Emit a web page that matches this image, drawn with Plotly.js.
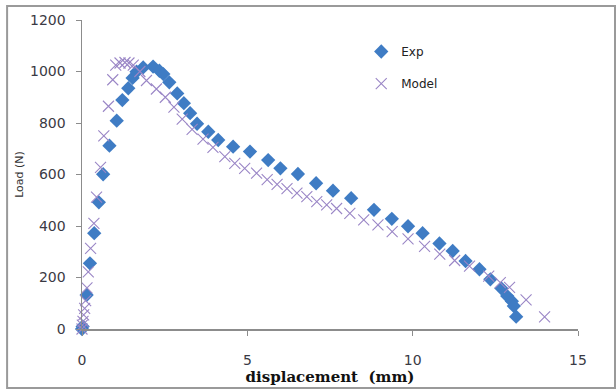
<!DOCTYPE html>
<html>
<head>
<meta charset="utf-8">
<script src="https://cdn.plot.ly/plotly-3.0.1.min.js"></script>
<style>html,body{margin:0;padding:0;background:#fff;}#chart{width:616px;height:389px;}</style>
</head>
<body>
<div id="chart"></div>
<script>
const expX = [0, 0.02, 0.14, 0.24, 0.37, 0.51, 0.64, 0.83, 1.05, 1.22, 1.4, 1.53, 1.65, 1.85, 2.15, 2.34, 2.46, 2.64, 2.88, 3.08, 3.27, 3.48, 3.82, 4.12, 4.57, 5.08, 5.63, 6.0, 6.53, 7.08, 7.59, 8.14, 8.83, 9.37, 9.86, 10.3, 10.81, 11.21, 11.6, 12.02, 12.35, 12.68, 12.86, 13.0, 13.06, 13.13];
const expY = [0, 10, 132, 255, 372, 492, 601, 712, 809, 889, 935, 975, 999, 1016, 1019, 1003, 990, 958, 915, 877, 838, 797, 766, 734, 708, 689, 656, 624, 602, 566, 537, 508, 463, 428, 399, 372, 332, 303, 264, 232, 193, 158, 128, 108, 89, 48];

const modelX = [0, 0.01, 0.03, 0.05, 0.08, 0.11, 0.15, 0.19, 0.26, 0.36, 0.44, 0.56, 0.66, 0.8, 0.93, 1.02, 1.15, 1.3, 1.42, 1.55, 1.75, 1.95, 2.25, 2.52, 2.78, 3.03, 3.33, 3.66, 3.96, 4.32, 4.62, 4.92, 5.28, 5.6, 5.9, 6.2, 6.5, 6.8, 7.1, 7.4, 7.7, 8.1, 8.52, 8.95, 9.38, 9.86, 10.36, 10.82, 11.27, 11.72, 12.3, 12.65, 12.93, 13.43, 13.99];
const modelY = [0, 15, 30, 55, 80, 110, 160, 222, 313, 410, 512, 628, 750, 865, 968, 1025, 1033, 1035, 1033, 1025, 1000, 965, 932, 900, 862, 815, 775, 737, 705, 669, 643, 624, 605, 580, 562, 545, 528, 514, 495, 482, 468, 449, 424, 404, 378, 350, 321, 291, 266, 244, 205, 180, 162, 113, 47];

const yTicks = [0, 200, 400, 600, 800, 1000, 1200];
const xTicks = [0, 5, 10, 15];

const traces = [
  {
    x: expX, y: expY, name: 'Exp', type: 'scatter', mode: 'markers',
    marker: {symbol: 'diamond', size: 11, color: '#3f7cc4'},
    cliponaxis: false, legend: 'legend'
  },
  {
    x: modelX, y: modelY, name: 'Model', type: 'scatter', mode: 'markers',
    marker: {symbol: 'x-thin', size: 11, color: '#9a86c6', line: {width: 1.1, color: '#9a86c6'}},
    cliponaxis: false, legend: 'legend2'
  }
];

const layout = {
  width: 616, height: 389,
  margin: {l: 82, r: 38, t: 20, b: 60},
  paper_bgcolor: '#fff', plot_bgcolor: '#fff',
  showlegend: true,
  xaxis: {
    range: [0, 15], tickvals: xTicks, ticktext: xTicks.map(String),
    showgrid: false, zeroline: false, showline: true, linecolor: '#8c8c8c', linewidth: 1.5,
    ticks: 'outside', ticklen: 5, tickcolor: '#8c8c8c', tickwidth: 1,
    ticklabelstandoff: 13,
    tickfont: {family: 'DejaVu Sans', size: 14, color: '#3a3a44'},
    title: {text: 'displacement\u00a0\u00a0(mm)', standoff: 1,
      font: {family: 'DejaVu Serif', size: 15, color: '#111', weight: 'bold'}}
  },
  yaxis: {
    range: [0, 1200], tickvals: yTicks, ticktext: yTicks.map(String),
    showgrid: false, zeroline: false, showline: true, linecolor: '#8c8c8c', linewidth: 1.5,
    ticks: 'outside', ticklen: 5, tickcolor: '#8c8c8c', tickwidth: 1,
    ticklabelstandoff: 7,
    tickfont: {family: 'DejaVu Sans', size: 14, color: '#3a3a44'},
    title: {text: 'Load (N)', standoff: 4,
      font: {family: 'DejaVu Sans', size: 11, color: '#333'}}
  },
  legend: {x: 0.563, y: 0.898, xanchor: 'left', yanchor: 'middle', bgcolor: 'rgba(0,0,0,0)',
    font: {family: 'DejaVu Sans', size: 12, color: '#222'}},
  legend2: {x: 0.563, y: 0.794, xanchor: 'left', yanchor: 'middle', bgcolor: 'rgba(0,0,0,0)',
    font: {family: 'DejaVu Sans', size: 12, color: '#222'}},
  shapes: [{
    type: 'rect', xref: 'paper', yref: 'paper',
    x0: -0.151, x1: 1.0746, y0: -0.191, y1: 1.045,
    line: {color: '#9a9a9a', width: 2}
  }]
};

Plotly.newPlot('chart', traces, layout, {displayModeBar: false, staticPlot: true});
</script>
</body>
</html>
